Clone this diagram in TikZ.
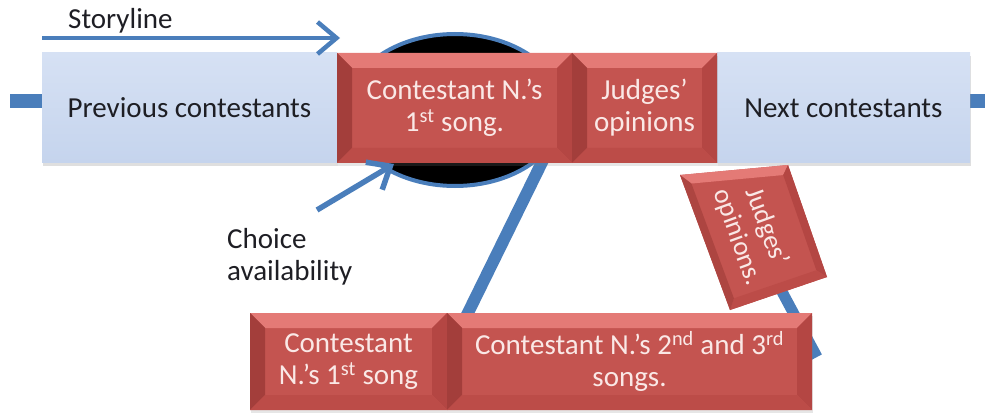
\documentclass[tikz,border=0pt]{standalone}
\usepackage{fontspec}
\setmainfont{Carlito}
\usetikzlibrary{arrows.meta,shadows,shapes.geometric,calc}

\definecolor{lineblue}{RGB}{74,126,187}
\definecolor{paleblue}{RGB}{197,212,237}
\definecolor{paleblueTop}{RGB}{214,225,244}
\definecolor{brickface}{RGB}{196,84,80}
\definecolor{bricklight}{RGB}{228,122,118}
\definecolor{brickdark}{RGB}{163,62,59}
\definecolor{brickmid}{RGB}{180,70,67}
\definecolor{brickbottom}{RGB}{188,76,72}
\definecolor{bricktext}{RGB}{250,232,230}
\definecolor{inktext}{RGB}{30,30,36}

\tikzset{
  labelfont/.style={font=\fontsize{29}{32}\selectfont},
  band/.style={rectangle, inner sep=0pt, top color=paleblueTop, bottom color=paleblue,
    text=inktext, labelfont, align=center,
    drop shadow={opacity=0.25, shadow xshift=1pt, shadow yshift=-3pt}},
  brick/.style={rectangle, inner sep=0pt, fill=brickface, text=bricktext, labelfont, align=center,
    drop shadow={opacity=0.2, shadow xshift=1pt, shadow yshift=-3pt},
    path picture={
      \fill[bricklight] (path picture bounding box.north west) -- (path picture bounding box.north east)
        -- ([shift={(-15pt,-15pt)}]path picture bounding box.north east)
        -- ([shift={(15pt,-15pt)}]path picture bounding box.north west) -- cycle;
      \fill[brickdark] (path picture bounding box.north west) -- (path picture bounding box.south west)
        -- ([shift={(15pt,15pt)}]path picture bounding box.south west)
        -- ([shift={(15pt,-15pt)}]path picture bounding box.north west) -- cycle;
      \fill[brickmid] (path picture bounding box.north east) -- (path picture bounding box.south east)
        -- ([shift={(-15pt,15pt)}]path picture bounding box.south east)
        -- ([shift={(-15pt,-15pt)}]path picture bounding box.north east) -- cycle;
      \fill[brickbottom] (path picture bounding box.south west) -- (path picture bounding box.south east)
        -- ([shift={(-15pt,15pt)}]path picture bounding box.south east)
        -- ([shift={(15pt,15pt)}]path picture bounding box.south west) -- cycle;
    }},
  thread/.style={draw=lineblue, line width=#1},
  thread/.default=12pt,
  pointer/.style={draw=lineblue, line width=#1, -{Straight Barb[length=19pt,width=32pt]}},
}

\begin{document}
\begin{tikzpicture}[x=1pt, y=-1pt]
\useasboundingbox (0,0) rectangle (992,414);

% timeline through the rows
\coordinate (lineL) at (10,101);
\coordinate (lineR) at (985,101);
\draw[thread=14pt] (lineL) -- (lineR);

% black loop behind the first song
\node[ellipse, draw=lineblue, line width=4pt, fill=black, inner sep=0pt,
      minimum width=216pt, minimum height=152pt] (loop) at (455,110) {};

% strands down to the second row
\coordinate (loopFoot) at (548,150);
\coordinate (rowFoot) at (462,325);
\draw[thread] (loopFoot) -- (rowFoot);
\coordinate (tiltFoot) at (765,260);
\coordinate (sideEnd) at (817,357);
\draw[thread=11pt] (tiltFoot) -- (sideEnd);

% top row
\node[band, minimum width=295pt, minimum height=110pt] (prev) at (189.5,108) {Previous contestants};
\node[band, minimum width=253pt, minimum height=110pt] (next) at (843.5,108) {Next contestants};
\node[brick, minimum width=235pt, minimum height=110pt] (song1) at (454.5,108)
  {Contestant N.'s\\1\textsuperscript{st} song.};
\node[brick, minimum width=145pt, minimum height=110pt] (judges) at (644.5,108)
  {Judges'\\opinions};

% tilted judges box
\coordinate (tA) at (680,175);
\coordinate (tB) at (788,165);
\coordinate (tC) at (827,277);
\coordinate (tD) at (730,310);
\coordinate (tO) at (756,232);
\fill[brickface] (tA) -- (tB) -- (tC) -- (tD) -- cycle;
\fill[bricklight] (tA) -- (tB) -- ($(tO)!0.85!(tB)$) -- ($(tO)!0.85!(tA)$) -- cycle;
\fill[brickmid] (tB) -- (tC) -- ($(tO)!0.85!(tC)$) -- ($(tO)!0.85!(tB)$) -- cycle;
\fill[brickbottom] (tC) -- (tD) -- ($(tO)!0.85!(tD)$) -- ($(tO)!0.85!(tC)$) -- cycle;
\fill[brickdark!70!brickface] (tD) -- (tA) -- ($(tO)!0.85!(tA)$) -- ($(tO)!0.85!(tD)$) -- cycle;
\node[font=\fontsize{27}{31}\selectfont, text=bricktext, align=center, rotate=-70, inner sep=0pt]
  (tilt) at (752,232) {Judges'\\opinions.};

% bottom row
\node[brick, minimum width=197pt, minimum height=97pt] (song1b) at (348.5,361.5)
  {Contestant\\N.'s 1\textsuperscript{st} song};
\node[brick, minimum width=365pt, minimum height=97pt] (songs23) at (629.5,361.5)
  {Contestant N.'s 2\textsuperscript{nd} and 3\textsuperscript{rd}\\songs.};

% labels and arrows
\node[labelfont, text=inktext, anchor=base west, inner sep=0pt] (story) at (68,29) {Storyline};
\coordinate (storyS) at (42,38);
\coordinate (storyE) at (340,38);
\draw[pointer=4.5pt] (storyS) -- (storyE);

\node[labelfont, text=inktext, anchor=west, align=left, inner sep=0pt] (choice) at (227,257)
  {Choice\\availability};
\coordinate (choiceS) at (317,210);
\coordinate (choiceE) at (394,164);
\draw[pointer=5.5pt] (choiceS) -- (choiceE);
\end{tikzpicture}
\end{document}
